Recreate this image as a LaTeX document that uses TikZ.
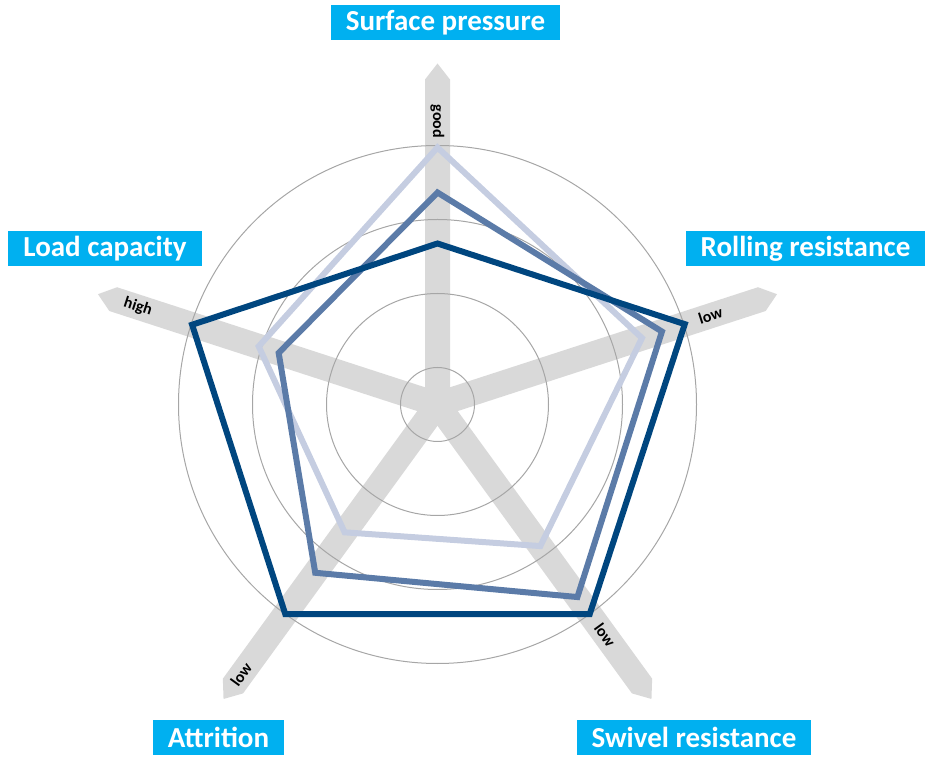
\documentclass[tikz,border=0pt]{standalone}
\usepackage{fontspec}
\setmainfont{Carlito}
\usepackage{xcolor}
\usepackage{tikz}
\usetikzlibrary{calc}
\definecolor{headcyan}{HTML}{00B0F0}
\definecolor{armgray}{HTML}{D9D9D9}
\definecolor{ringgray}{HTML}{A6A6A6}
\definecolor{darkseries}{HTML}{00467F}
\definecolor{midseries}{HTML}{5B7BA8}
\definecolor{lightseries}{HTML}{C5CDE1}
\tikzstyle{heading} = [rectangle, fill=headcyan, text=white, font=\bfseries\fontsize{29}{32}\selectfont, minimum height=35pt, inner xsep=15pt, inner ysep=0pt]
\tikzstyle{armlabel} = [font=\bfseries\fontsize{16}{18}\selectfont, inner sep=0pt]
\tikzstyle{ring} = [draw=ringgray, line width=1pt]
\tikzstyle{series} = [line width=6pt, miter limit=10, line join=miter]

\begin{document}
\begin{tikzpicture}[x=1pt, y=1pt]
    \useasboundingbox (0,0) rectangle (938,756);
    \coordinate (c) at (437.5,351.5);

    % Axes
    \foreach \a/\l in {90/341, 18/357, 162/357, 306/364, 234/364}
        \fill[armgray, shift={(c)}, rotate=\a] (-6,12.5) -- (\l-16,12.5) -- (\l,0) -- (\l-16,-12.5) -- (-6,-12.5) -- cycle;

    % Rings
    \foreach \r in {37,111,185,259}
        \draw[ring] (c) circle (\r);

    % Axis ends
    \node[armlabel, rotate=-90] (gd) at ($(c)+(90:283pt)$) {good};
    \node[armlabel, rotate=18] (lr) at ($(c)+(18:287pt)$) {low};
    \node[armlabel, rotate=-18] (hl) at ($(c)+(162:315pt)$) {high};
    \node[armlabel, rotate=-54] (ls) at ($(c)+(306:285pt)$) {low};
    \node[armlabel, rotate=54] (la) at ($(c)+(234:334pt)$) {low};

    % Series
    \draw[series, lightseries] ($(c)+(90:257pt)$) -- ($(c)+(18:215pt)$) -- ($(c)+(306:175pt)$) -- ($(c)+(234:158pt)$) -- ($(c)+(162:188pt)$) -- cycle;
    \draw[series, midseries] ($(c)+(90:212pt)$) -- ($(c)+(18:236pt)$) -- ($(c)+(306:238pt)$) -- ($(c)+(234:208pt)$) -- ($(c)+(162:167pt)$) -- cycle;
    \draw[series, darkseries] ($(c)+(90:161pt)$) -- ($(c)+(18:260pt)$) -- ($(c)+(306:259pt)$) -- ($(c)+(234:259pt)$) -- ($(c)+(162:258pt)$) -- cycle;

    % Headings
    \node[heading] (sp) at (445.5,733.5) {Surface pressure};
    \node[heading] (rr) at (805.5,507) {Rolling resistance};
    \node[heading] (lc) at (105,507) {Load capacity};
    \node[heading] (sr) at (694,18.5) {Swivel resistance};
    \node[heading] (at) at (218.5,18.5) {Attrition};
\end{tikzpicture}
\end{document}
